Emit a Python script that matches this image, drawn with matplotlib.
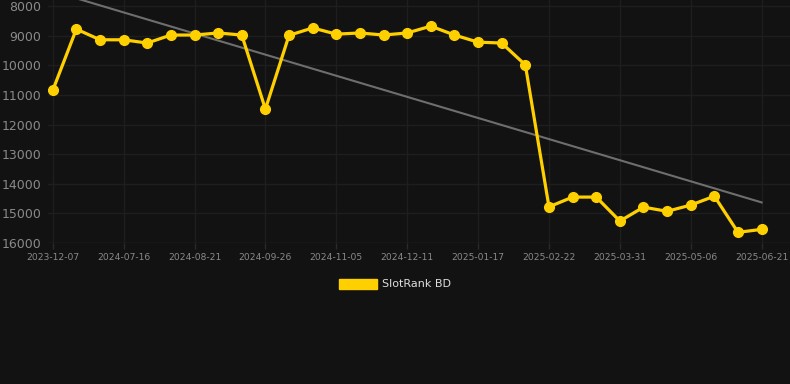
import numpy as np
import matplotlib
matplotlib.use("Agg")
import matplotlib.pyplot as plt
from matplotlib.patches import Patch

# ==========================================
# DATA
# ==========================================
RANKS = [
    10850, 8780, 9140, 9140, 9250, 8980, 8980, 8910, 8980, 11480,
    8990, 8740, 8950, 8910, 8980, 8910, 8680, 8980, 9220, 9250,
    9990, 14780, 14450, 14450, 15260, 14790, 14930, 14720, 14420, 15640,
    15540,
]
TICK_LABELS = [
    "2023-12-07", "2024-07-16", "2024-08-21", "2024-09-26", "2024-11-05",
    "2024-12-11", "2025-01-17", "2025-02-22", "2025-03-31", "2025-05-06",
    "2025-06-21",
]
TICK_STEP = 3
SERIES_NAME = "SlotRank BD"

# ==========================================
# STYLE
# ==========================================
BG = "#121212"
GRID = "#1e1e1e"
YELLOW = "#FFD000"
TREND = "#6e6e6e"
TICK_COLOR = "#8a8a8a"

x = np.arange(len(RANKS))
slope, intercept = np.polyfit(x, RANKS, 1)
trend = slope * x + intercept

fig = plt.figure(figsize=(7.9, 3.84), dpi=100, facecolor=BG)
ax = fig.add_axes([48 / 790, 1 - 243 / 384, 742 / 790, 243 / 384])
ax.set_facecolor(BG)

ax.plot(x, trend, color=TREND, linewidth=1.5, zorder=2)
ax.plot(x, RANKS, color=YELLOW, linewidth=2.3, marker="o",
        markersize=7, zorder=3)

ax.set_xlim(-0.2, 31.2)
ax.set_ylim(16000, 8000 - 6 / 29.6 * 1000)
ax.set_yticks(range(8000, 16001, 1000))
ax.set_xticks(x[::TICK_STEP])
ax.set_xticklabels(TICK_LABELS)

ax.grid(True, color=GRID, linewidth=1)
for spine in ax.spines.values():
    spine.set_visible(False)
ax.axhline(16000, color="#2a2a2a", linewidth=1, zorder=1)

ax.tick_params(axis="y", colors=TICK_COLOR, labelsize=9, length=0, pad=5)
ax.tick_params(axis="x", colors=TICK_COLOR, labelsize=6.6, length=4,
               width=1, color="#2a2a2a", pad=3)

fig.legend(
    handles=[Patch(facecolor=YELLOW, edgecolor=YELLOW, label=SERIES_NAME)],
    loc="center",
    bbox_to_anchor=(0.5, 1 - 284 / 384),
    frameon=False,
    handlelength=3.4,
    handleheight=1.0,
    handletextpad=0.5,
    labelcolor="#dddddd",
    fontsize=8,
)

fig.savefig("out.png", dpi=100, facecolor=BG)
